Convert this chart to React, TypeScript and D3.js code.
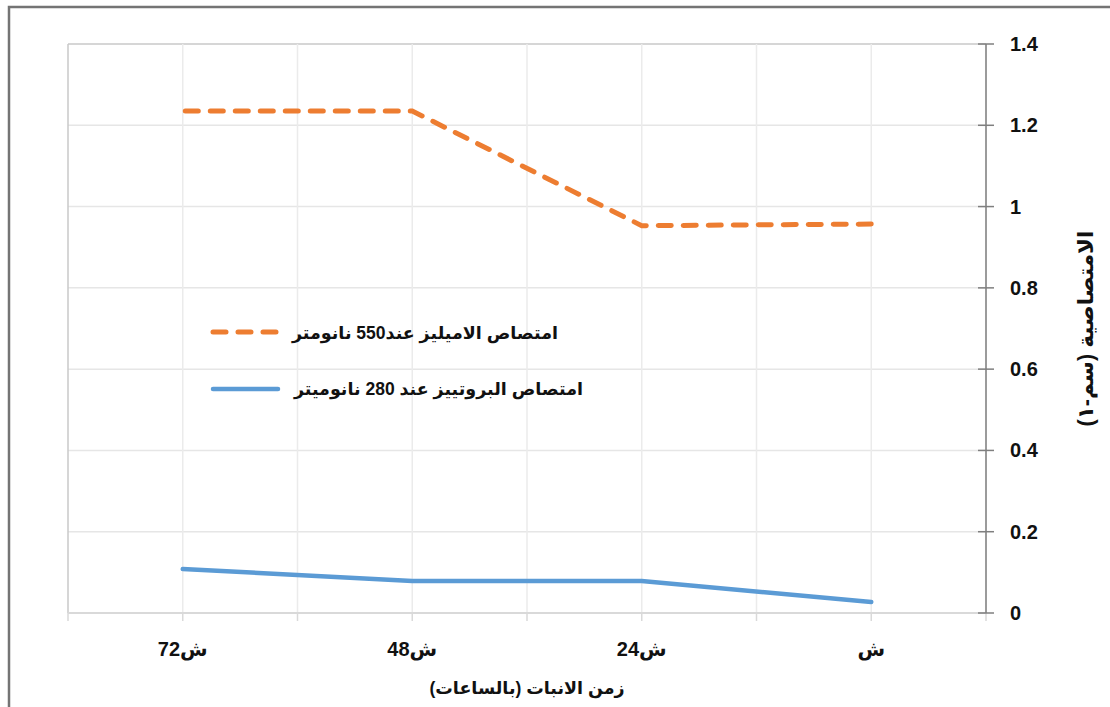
import React from "react";
import * as d3 from "d3";

const categories = ["ش", "24ش", "48ش", "72ش"];
const amylase550 = [0.957, 0.953, 1.235, 1.235];
const protease280 = [0.027, 0.079, 0.079, 0.108];
const yTicks = [0, 0.2, 0.4, 0.6, 0.8, 1, 1.2, 1.4];
const legendLabels = ["امتصاص الاميليز عند550 نانومتر", "امتصاص البروتييز عند 280 نانوميتر"];
const xTitle = "زمن الانبات (بالساعات)";
const yTitle = "الامتصاصية (سم-١)";

const W = 1110;
const H = 707;
const L = 68, R = 986, T = 44, B = 613;
const FONT = "Arial, 'Liberation Sans', 'DejaVu Sans', sans-serif";

export default function App() {
  // 8 half-slots; categories sit at odd slots, right-to-left
  const x = d3.scaleLinear().domain([0, 8]).range([R, L]);
  const catX = (i: number) => x(2 * i + 1);
  const y = d3.scaleLinear().domain([0, 1.4]).range([B, T]);
  const slots = d3.range(0, 9);

  const line = d3
    .line<number>()
    .x((_, i) => catX(i))
    .y((d) => y(d));

  return (
    <svg
      width={W}
      height={H}
      style={{ position: "absolute", left: 0, top: 0, background: "#fff" }}
      fontFamily={FONT}
    >
      <rect x={9} y={7} width={1200} height={800} fill="#fff" stroke="#747474" strokeWidth={2.5} />
      {/* horizontal gridlines */}
      {yTicks.map((t) => (
        <line key={"h" + t} x1={L} x2={R} y1={y(t)} y2={y(t)} stroke={t === 1.4 ? "#c8c8c8" : "#e6e6e6"} strokeWidth={1.5} />
      ))}
      {/* vertical gridlines */}
      {slots.map((s) => (
        <line key={"v" + s} x1={x(s)} x2={x(s)} y1={T} y2={B} stroke={s === 8 ? "#c8c8c8" : "#ebebeb"} strokeWidth={1.5} />
      ))}
      {/* bottom axis */}
      <line x1={L} x2={R} y1={B} y2={B} stroke="#d9d9d9" strokeWidth={2} />
      {slots.map((s) => (
        <line key={"xt" + s} x1={x(s)} x2={x(s)} y1={B} y2={B + 8} stroke="#d9d9d9" strokeWidth={1.5} />
      ))}
      {/* right axis */}
      <line x1={R} x2={R} y1={T} y2={B} stroke="#7f7f7f" strokeWidth={1.5} />
      {yTicks.map((t) => (
        <line key={"yt" + t} x1={R - 8} x2={R + 8} y1={y(t)} y2={y(t)} stroke="#7f7f7f" strokeWidth={1.5} />
      ))}
      {yTicks.map((t) => (
        <text key={"yl" + t} x={1010} y={y(t) + 7} fontSize={20} fontWeight="bold" fill="#111">
          {String(t)}
        </text>
      ))}
      {categories.map((c, i) => (
        <text key={"xl" + i} x={catX(i)} y={656} fontSize={20} fontWeight="bold" textAnchor="middle" fill="#111">
          {c}
        </text>
      ))}
      {/* series */}
      <path d={line(amylase550) || ""} fill="none" stroke="#ed7d31" strokeWidth={5} strokeDasharray="13 12" strokeLinecap="round" />
      <path d={line(protease280) || ""} fill="none" stroke="#5b9bd5" strokeWidth={4.5} strokeLinecap="round" />
      {/* legend */}
      <line x1={213} x2={278} y1={332} y2={332} stroke="#ed7d31" strokeWidth={5} strokeDasharray="13 12" strokeLinecap="round" />
      <line x1={213} x2={278} y1={389} y2={389} stroke="#5b9bd5" strokeWidth={4.5} strokeLinecap="round" />
      <text x={558} y={339} fontSize={17.5} fontWeight="bold" textAnchor="end" fill="#111">
        {legendLabels[0]}
      </text>
      <text x={583} y={395} fontSize={17.5} fontWeight="bold" textAnchor="end" fill="#111">
        {legendLabels[1]}
      </text>
      {/* axis titles */}
      <text x={527} y={694} fontSize={17.5} fontWeight="bold" textAnchor="middle" fill="#111">
        {xTitle}
      </text>
      <text transform={`translate(1086,${(T + B) / 2}) rotate(-90)`} fontSize={21.5} fontWeight="bold" textAnchor="middle" dy={7} fill="#111">
        {yTitle}
      </text>
    </svg>
  );
}
